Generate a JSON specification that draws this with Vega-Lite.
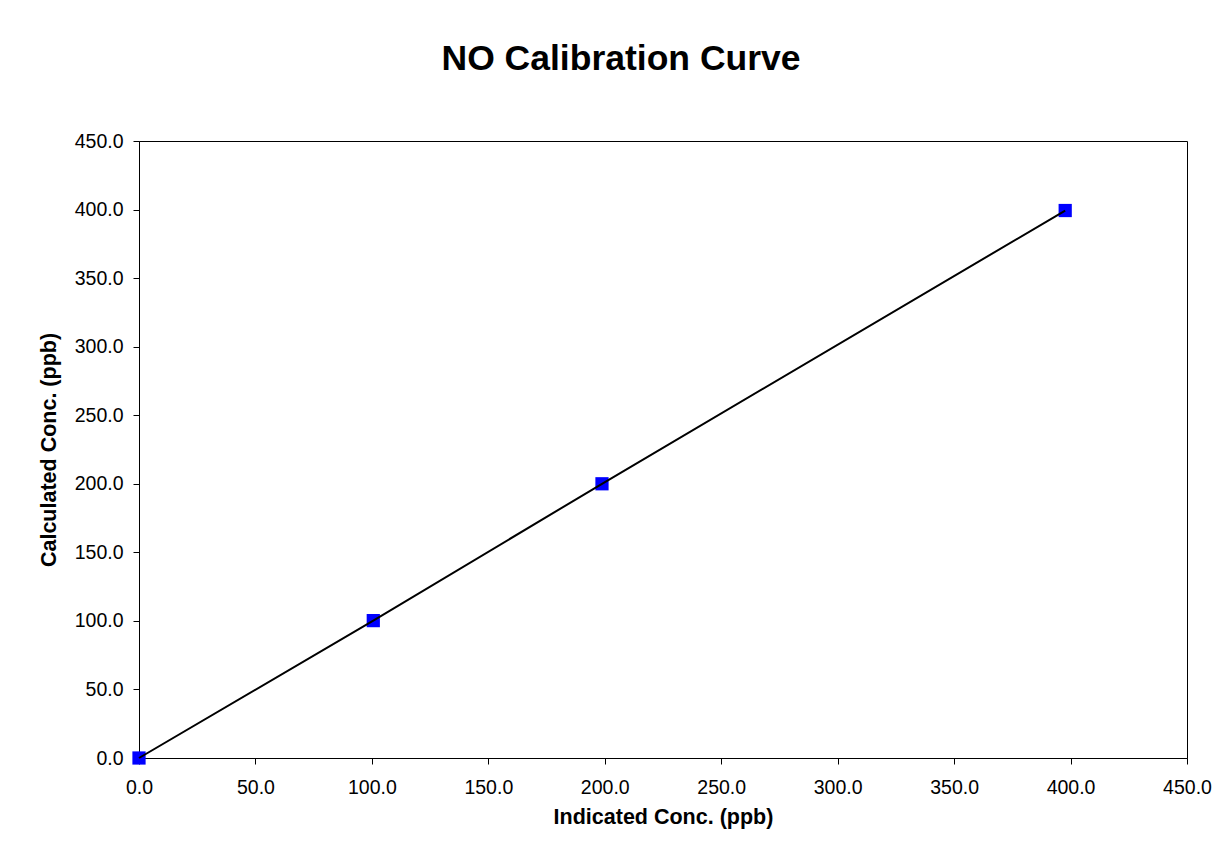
{
  "$schema": "https://vega.github.io/schema/vega-lite/v6.json",
  "autosize": {"type": "none"},
  "width": 1048,
  "height": 617,
  "padding": {"left": 139, "top": 141, "right": 38, "bottom": 103},
  "background": "white",
  "config": {
    "font": "Liberation Sans",
    "view": {"stroke": "black", "strokeWidth": 1},
    "axis": {
      "grid": false,
      "domainColor": "black",
      "tickColor": "black",
      "tickSize": 6,
      "labelColor": "black",
      "labelFont": "Liberation Sans",
      "labelFontSize": 19.5,
      "titleColor": "black",
      "titleFont": "Liberation Sans",
      "titleFontSize": 21.5,
      "titleFontWeight": "bold"
    }
  },
  "title": {
    "text": "NO Calibration Curve",
    "font": "Liberation Sans",
    "fontSize": 35.5,
    "fontWeight": "bold",
    "color": "black",
    "anchor": "middle",
    "frame": "group",
    "dx": -42,
    "baseline": "alphabetic",
    "offset": 26
  },
  "data": {
    "values": [
      {"indicated": 0, "calculated": 0},
      {"indicated": 100.6, "calculated": 100.2},
      {"indicated": 198.8, "calculated": 200.0},
      {"indicated": 397.7, "calculated": 399.3}
    ]
  },
  "encoding": {
    "x": {
      "field": "indicated",
      "type": "quantitative",
      "scale": {"domain": [0, 450], "nice": false, "zero": true},
      "axis": {"values": [0, 50, 100, 150, 200, 250, 300, 350, 400, 450], "format": ".1f", "title": "Indicated Conc. (ppb)", "labelPadding": 14, "titlePadding": 10, "labelFlush": false}
    },
    "y": {
      "field": "calculated",
      "type": "quantitative",
      "scale": {"domain": [0, 450], "nice": false, "zero": true},
      "axis": {"values": [0, 50, 100, 150, 200, 250, 300, 350, 400, 450], "format": ".1f", "title": "Calculated Conc. (ppb)", "labelPadding": 10, "titlePadding": 14, "labelFlush": false}
    }
  },
  "layer": [
    {
      "mark": {"type": "point", "shape": "square", "filled": true, "size": 175, "color": "#0000FF", "opacity": 1, "clip": false}
    },
    {
      "mark": {"type": "line", "color": "black", "strokeWidth": 2, "clip": false}
    }
  ]
}
